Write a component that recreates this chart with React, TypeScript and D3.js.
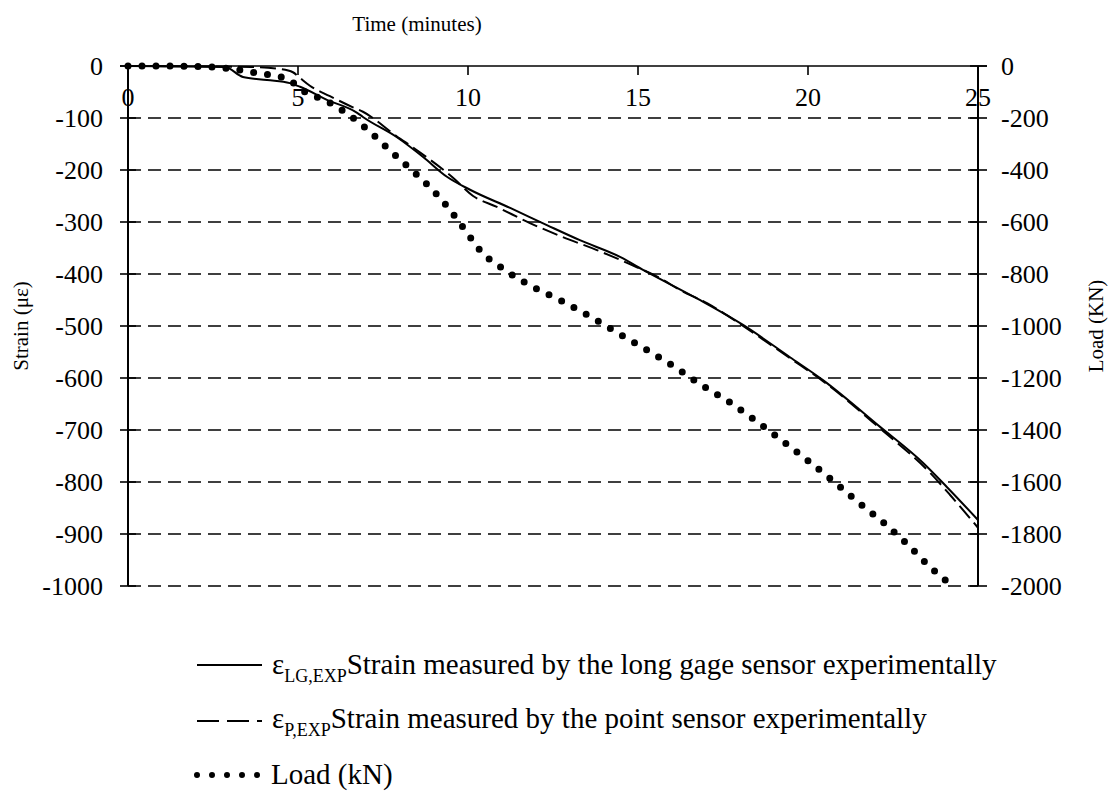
import React from "react";
import * as d3 from "d3";

const xTicks = [0, 5, 10, 15, 20, 25];
const strainTicks = [0, -100, -200, -300, -400, -500, -600, -700, -800, -900, -1000];
const loadTicks = [0, -200, -400, -600, -800, -1000, -1200, -1400, -1600, -1800, -2000];

const lgTime = [0, 2.85, 3.38, 4.09, 4.76, 5.06, 5.85, 6.74, 6.91, 7.91, 8.68, 9.38, 10.06, 11.24, 12.32, 13.29, 14.47, 15.26, 16.76, 18.09, 19.47, 20.44, 22.12, 23.38, 24.09, 25];
const lgStrain = [0, -2, -21, -27, -33, -40, -65, -90, -98, -137, -175, -213, -238, -273, -306, -335, -367, -396, -448, -498, -560, -604, -694, -763, -810, -873];

const pTime = [0, 3.6, 4.5, 4.85, 5.06, 5.35, 5.94, 6.6, 6.91, 7.9, 8.5, 9.56, 10.15, 10.85, 11.82, 12.79, 13.79, 14.76, 15.65, 16.24, 17.03, 18.09, 19.47, 20.44, 22.12, 23.6, 24.18, 25];
const pStrain = [0, -2, -6, -12, -23, -38, -58, -79, -88, -135, -162, -215, -250, -271, -302, -329, -354, -381, -408, -431, -456, -500, -562, -606, -697, -783, -825, -888];

const loadTime = [0, 1, 2, 2.85, 3.8, 4.7, 5.06, 5.94, 6.74, 7.12, 7.79, 8.5, 9.18, 9.76, 10.06, 10.35, 11.09, 11.91, 12.76, 13.62, 14.41, 15.26, 16.09, 16.82, 17.68, 18.47, 19.21, 19.97, 20.74, 21.47, 22.2, 22.91, 23.59, 24.25];
const loadKN = [0, 0, -2, -8, -27, -50, -88, -142, -212, -254, -335, -419, -508, -604, -658, -708, -785, -850, -904, -966, -1027, -1092, -1158, -1223, -1292, -1365, -1438, -1515, -1596, -1677, -1754, -1838, -1927, -2000];

const FONT = '"Liberation Serif", "Times New Roman", Times, "DejaVu Serif", serif';

export default function App() {
  const x = d3.scaleLinear().domain([0, 25]).range([128, 978]);
  const yL = d3.scaleLinear().domain([-1000, 0]).range([586, 66]);
  const yR = d3.scaleLinear().domain([-2000, 0]).range([586, 66]);

  const lineL = d3.line<[number, number]>().x((d) => x(d[0])).y((d) => yL(d[1])).curve(d3.curveMonotoneX);
  const lineR = d3.line<[number, number]>().x((d) => x(d[0])).y((d) => yR(d[1])).curve(d3.curveMonotoneX);

  const lg = lgTime.map((t, i) => [t, lgStrain[i]] as [number, number]);
  const p = pTime.map((t, i) => [t, pStrain[i]] as [number, number]);
  const ld = loadTime.map((t, i) => [t, loadKN[i]] as [number, number]);

  const left = x(0);
  const right = x(25);
  const top = yL(0);
  const bottom = yL(-1000);
  const ts = { fontFamily: FONT };

  return (
    <svg
      width={1113}
      height={798}
      style={{ position: "absolute", left: 0, top: 0, background: "#fff", fontFamily: FONT }}
    >
      <rect width={1113} height={798} fill="#fff" />
      <text x={417} y={31} fontSize={21} textAnchor="middle" style={ts}>Time (minutes)</text>

      {strainTicks.filter((v) => v !== 0).map((v) => (
        <line key={"g" + v} x1={left} x2={right} y1={yL(v)} y2={yL(v)} stroke="#000" strokeWidth={1.6} strokeDasharray="13 7" />
      ))}
      <line x1={left - 8} x2={right + 9} y1={top} y2={top} stroke="#000" strokeWidth={1.6} />
      <line x1={left} x2={left} y1={top} y2={bottom} stroke="#000" strokeWidth={2} />
      <line x1={right} x2={right} y1={top} y2={bottom} stroke="#000" strokeWidth={2} />
      {strainTicks.map((v) => (
        <g key={"l" + v}>
          <line x1={left - 8} x2={left + 8} y1={yL(v)} y2={yL(v)} stroke="#000" strokeWidth={1.6} />
          <text x={103} y={yL(v)} dy="0.34em" fontSize={26} textAnchor="end" style={ts}>{v}</text>
        </g>
      ))}
      {loadTicks.map((v) => (
        <g key={"r" + v}>
          <line x1={right - 8} x2={right + 9} y1={yR(v)} y2={yR(v)} stroke="#000" strokeWidth={1.6} />
          <text x={1001} y={yR(v)} dy="0.34em" fontSize={26} textAnchor="start" style={ts}>{v}</text>
        </g>
      ))}
      {xTicks.map((v) => (
        <g key={"x" + v}>
          <line x1={x(v)} x2={x(v)} y1={top} y2={top + 9} stroke="#000" strokeWidth={1.6} />
          <text x={x(v)} y={106} fontSize={26} textAnchor="middle" style={ts}>{v}</text>
        </g>
      ))}

      <text transform="translate(28,326) rotate(-90)" fontSize={21} textAnchor="middle" style={ts}>Strain (με)</text>
      <text transform="translate(1103,326) rotate(-90)" fontSize={21} textAnchor="middle" style={ts}>Load (KN)</text>

      <path d={lineR(ld) || ""} fill="none" stroke="#000" strokeWidth={7} strokeLinecap="round" strokeDasharray="0 14" />
      <path d={lineL(p) || ""} fill="none" stroke="#000" strokeWidth={2} strokeDasharray="16 6" />
      <path d={lineL(lg) || ""} fill="none" stroke="#000" strokeWidth={2} />

      <line x1={197} x2={262} y1={665} y2={665} stroke="#000" strokeWidth={2} />
      <text x={272} y={674} fontSize={29} style={ts}>
        ε<tspan fontSize={18} dy={8}>LG,EXP</tspan><tspan dy={-8}>Strain measured by the long gage sensor experimentally</tspan>
      </text>
      <line x1={197} x2={262} y1={721} y2={721} stroke="#000" strokeWidth={2} strokeDasharray="22 8" />
      <text x={272} y={728} fontSize={29} style={ts}>
        ε<tspan fontSize={18} dy={8}>P,EXP</tspan><tspan dy={-8}>Strain measured by the point sensor experimentally</tspan>
      </text>
      <line x1={197} x2={261} y1={775} y2={775} stroke="#000" strokeWidth={6} strokeLinecap="round" strokeDasharray="0 15" />
      <text x={271} y={784} fontSize={29} style={ts}>Load (kN)</text>
    </svg>
  );
}
